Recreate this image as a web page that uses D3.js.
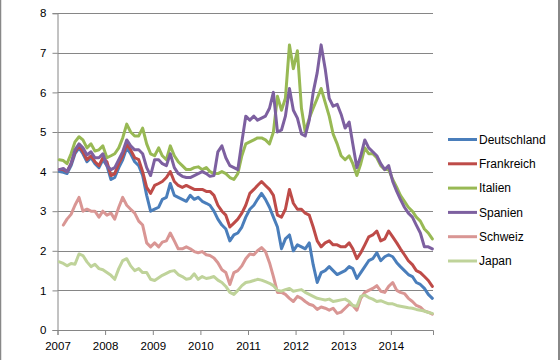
<!DOCTYPE html>
<html><head><meta charset="utf-8">
<script src="https://cdn.jsdelivr.net/npm/d3@7"></script>
<style>body{margin:0;background:#fff}svg{display:block}</style>
</head><body>
<svg id="c" width="560" height="360"></svg>
<script>
const seriesNames = ["Deutschland","Frankreich","Italien","Spanien","Schweiz","Japan"];
const seriesColors = ["#4A7EBB","#BE4B48","#98B954","#7D60A0","#D99694","#BFD39A"];
const yTicks = [0,1,2,3,4,5,6,7,8];
const yearTicks = [2007,2008,2009,2010,2011,2012,2013,2014];
// monthly values, Jan 2007 .. Nov 2014
const deutschland = [
4.00,3.98,3.95,4.15,4.45,4.60,4.45,4.25,4.35,4.20,4.10,4.30,
4.15,3.80,3.85,4.10,4.30,4.60,4.45,4.25,4.15,3.90,3.40,3.00,
3.05,3.10,3.30,3.35,3.70,3.40,3.35,3.30,3.25,3.40,3.30,3.35,
3.25,3.20,3.15,3.00,2.80,2.65,2.55,2.25,2.40,2.45,2.60,2.85,
3.05,3.15,3.30,3.45,3.30,3.10,2.85,2.60,2.05,2.30,2.40,2.00,
2.15,2.10,2.05,2.20,1.65,1.20,1.45,1.50,1.60,1.50,1.40,1.45,
1.50,1.60,1.55,1.30,1.45,1.60,1.75,1.80,1.95,1.75,1.85,1.90,
1.85,1.70,1.60,1.50,1.40,1.35,1.20,1.15,1.05,0.90,0.80];
const frankreich = [
4.05,4.05,4.00,4.20,4.50,4.65,4.50,4.30,4.40,4.25,4.15,4.35,
4.25,3.90,3.95,4.20,4.40,4.70,4.55,4.35,4.30,4.00,3.60,3.45,
3.65,3.70,3.75,3.85,4.00,3.75,3.65,3.60,3.65,3.60,3.55,3.55,
3.55,3.50,3.50,3.40,3.15,3.00,2.90,2.60,2.70,2.80,2.95,3.15,
3.45,3.55,3.65,3.75,3.65,3.55,3.40,2.90,2.85,3.05,3.55,3.20,
3.05,3.05,2.95,2.90,2.60,2.25,2.10,2.20,2.25,2.15,2.15,2.10,
2.10,2.20,2.05,1.80,1.95,2.15,2.35,2.40,2.50,2.25,2.30,2.50,
2.35,2.20,2.05,1.90,1.75,1.65,1.50,1.45,1.35,1.25,1.10];
const italien = [
4.30,4.28,4.20,4.45,4.75,4.88,4.80,4.60,4.70,4.52,4.55,4.65,
4.35,4.40,4.45,4.60,4.85,5.20,5.00,4.90,4.90,5.10,4.70,4.45,
4.40,4.60,4.40,4.30,4.65,4.40,4.25,4.15,4.05,4.05,4.10,4.12,
4.05,4.10,4.00,3.95,3.95,4.00,3.95,3.85,3.80,3.95,4.40,4.70,
4.75,4.80,4.85,4.85,4.80,4.70,5.00,5.90,5.55,5.85,7.20,6.60,
7.05,5.60,5.00,5.35,5.60,5.85,6.10,5.75,5.40,4.95,4.70,4.40,
4.30,4.40,4.20,3.90,4.20,4.60,4.45,4.45,4.35,4.15,4.05,4.05,
3.80,3.60,3.40,3.25,3.10,3.00,2.85,2.75,2.55,2.45,2.30];
const spanien = [
4.05,4.08,4.00,4.20,4.55,4.70,4.60,4.42,4.50,4.35,4.35,4.45,
4.15,4.05,4.10,4.30,4.50,4.80,4.65,4.55,4.55,4.45,4.10,3.90,
4.30,4.30,4.20,4.15,4.45,4.10,3.95,3.88,3.85,3.85,3.90,3.95,
4.00,3.95,3.88,3.90,4.50,4.65,4.35,4.15,4.10,4.05,4.75,5.40,
5.30,5.40,5.30,5.35,5.40,5.60,6.00,5.00,5.05,5.40,6.10,5.55,
5.35,4.95,4.90,5.30,6.00,6.50,7.20,6.60,5.85,5.65,5.70,5.45,
5.10,5.25,4.70,4.10,4.40,4.80,4.60,4.50,4.40,4.20,4.05,4.15,
3.75,3.50,3.30,3.10,2.95,2.85,2.65,2.45,2.10,2.10,2.05];
const schweiz = [
null,2.65,2.80,2.92,3.15,3.35,3.00,3.05,3.00,3.00,2.85,3.00,
2.90,2.95,2.80,3.10,3.35,3.15,3.05,2.95,2.75,2.65,2.20,2.10,
2.20,2.10,2.22,2.25,2.45,2.25,2.05,2.05,2.10,2.05,1.98,1.95,
1.98,1.90,1.88,1.82,1.70,1.52,1.45,1.15,1.45,1.50,1.62,1.80,
1.92,1.90,2.00,2.08,1.98,1.70,1.35,0.95,0.95,0.90,0.80,0.72,
0.85,0.80,0.72,0.65,0.62,0.52,0.58,0.55,0.50,0.55,0.42,0.45,
0.55,0.65,0.62,0.50,0.80,0.95,1.00,1.05,1.12,0.98,0.95,1.10,
1.20,1.00,0.95,0.92,0.80,0.72,0.62,0.58,0.48,0.45,0.40];
const japan = [
1.72,1.68,1.62,1.68,1.66,1.92,1.88,1.72,1.60,1.66,1.55,1.52,
1.45,1.38,1.28,1.55,1.75,1.80,1.62,1.50,1.55,1.45,1.45,1.28,
1.25,1.32,1.38,1.43,1.48,1.50,1.40,1.35,1.28,1.30,1.42,1.28,
1.35,1.30,1.32,1.35,1.26,1.20,1.10,0.95,0.90,1.00,1.12,1.20,
1.22,1.25,1.28,1.26,1.22,1.18,1.12,1.00,0.98,1.02,1.05,0.98,
1.00,1.02,0.95,0.90,0.85,0.80,0.78,0.76,0.78,0.72,0.74,0.76,
0.78,0.72,0.62,0.60,0.85,0.88,0.82,0.78,0.72,0.74,0.70,0.66,
0.66,0.62,0.60,0.58,0.56,0.55,0.52,0.50,0.48,0.44,0.42];

const seriesValues = [deutschland, frankreich, italien, spanien, schweiz, japan];
const dates = deutschland.map((_, i) => new Date(2007, i, 15));

const svg = d3.select("#c");
const pLeft = 57.5, pRight = 433, pTop = 13.2, pBottom = 330;
const x = d3.scaleTime().domain([new Date(2007,0,1), new Date(2014,10,20)]).range([pLeft, pRight]);
const y = d3.scaleLinear().domain([0, 8]).range([pBottom, pTop]);
const font = "'Liberation Sans', Arial, sans-serif";
const grid = "#868686";

// frame
svg.append("line").attr("x1",0.5).attr("x2",0.5).attr("y1",0).attr("y2",360).attr("stroke","#888").attr("stroke-width",1.5);
svg.append("line").attr("x1",559).attr("x2",559).attr("y1",0).attr("y2",360).attr("stroke","#888").attr("stroke-width",2);

// gridlines
svg.append("g").selectAll("line").data(yTicks).join("line")
  .attr("x1", pLeft).attr("x2", pRight)
  .attr("y1", d => Math.round(y(d)) + 0.5).attr("y2", d => Math.round(y(d)) + 0.5)
  .attr("stroke", grid).attr("stroke-width", 1);

// y axis
const yAxis = d3.axisLeft(y).tickValues(yTicks).tickSize(5).tickPadding(6).tickFormat(d3.format("d"));
const gy = svg.append("g").attr("transform", `translate(${pLeft},0)`).call(yAxis);
gy.select(".domain").attr("stroke", grid);
gy.selectAll(".tick line").attr("stroke", grid);
gy.selectAll("text").attr("font-family", font).attr("font-size", "11.5px").attr("fill", "#000");

// x axis
const xAxis = d3.axisBottom(x).tickValues(yearTicks.map(yr => new Date(yr,0,1))).tickSize(5).tickPadding(7).tickFormat(d3.timeFormat("%Y"));
const gx = svg.append("g").attr("transform", `translate(0,${pBottom})`).call(xAxis);
gx.select(".domain").attr("stroke", grid);
gx.selectAll(".tick line").attr("stroke", grid);
gx.selectAll("text").attr("font-family", font).attr("font-size", "11.5px").attr("fill", "#000");

// lines
const line = d3.line().defined(d => d[1] != null).x(d => x(d[0])).y(d => y(d[1])).curve(d3.curveLinear);
seriesValues.forEach((vals, i) => {
  svg.append("path")
    .datum(vals.map((v, j) => [dates[j], v]))
    .attr("fill", "none").attr("stroke", seriesColors[i]).attr("stroke-width", 3)
    .attr("stroke-linejoin", "round").attr("stroke-linecap", "round")
    .attr("d", line);
});

// legend
const lg = svg.append("g").selectAll("g").data(seriesNames).join("g")
  .attr("transform", (d, i) => `translate(0,${139.5 + i * 24.3})`);
lg.append("line").attr("x1", 448).attr("x2", 477).attr("stroke", (d, i) => seriesColors[i]).attr("stroke-width", 3);
lg.append("text").attr("x", 479).attr("dy", "0.35em").attr("font-family", font).attr("font-size", "12px").text(d => d);
</script>
</body></html>
